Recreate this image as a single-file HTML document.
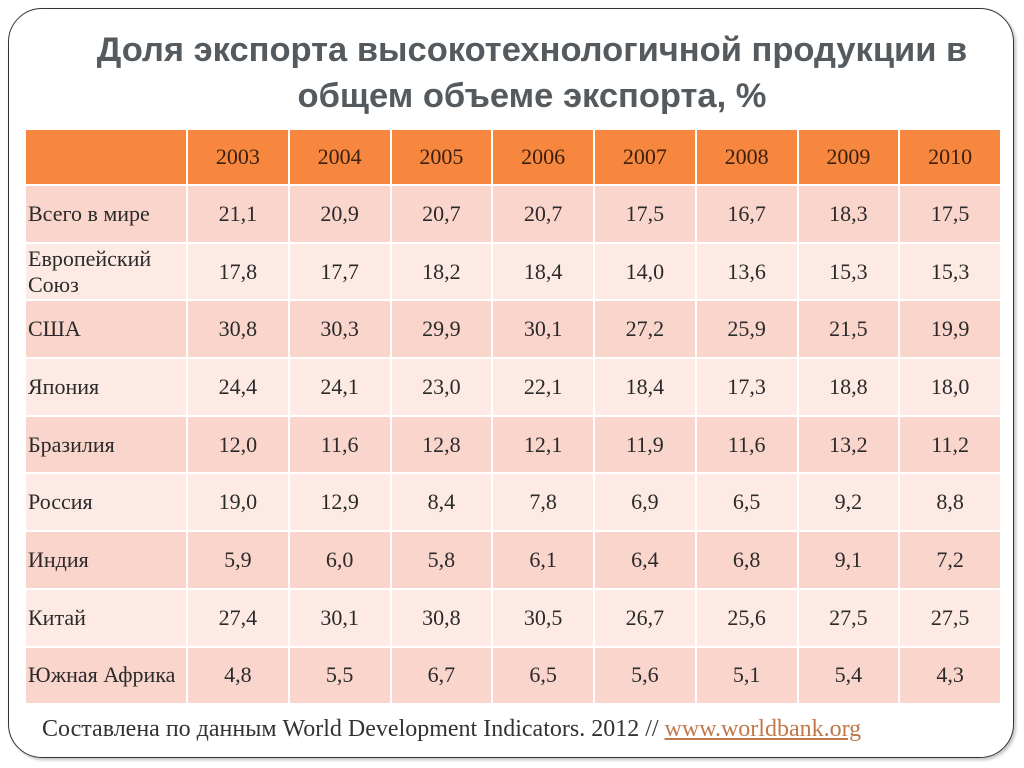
<!DOCTYPE html>
<html><head><meta charset="utf-8">
<style>
html,body{margin:0;padding:0;background:#fff;}
body{width:1024px;height:768px;position:relative;overflow:hidden;font-family:"Liberation Serif","DejaVu Serif",serif;}
.frame{position:absolute;left:8px;top:8px;width:1006px;height:750px;border:1.5px solid #333;border-radius:34px;box-sizing:border-box;box-shadow:2px 2px 3px rgba(0,0,0,0.25);}
.title{position:absolute;left:82px;top:27px;width:900px;text-align:center;font-family:"Liberation Sans","DejaVu Sans",sans-serif;font-weight:bold;font-size:34.5px;line-height:46px;color:#555a5e;}
table{position:absolute;left:24px;top:128px;border-collapse:collapse;table-layout:fixed;}
td,th{padding:0;border:2px solid #fff;font-size:22px;color:#2a2a2a;text-align:center;}
th{background:#f7873e;height:54px;font-weight:normal;color:#3a2010;}
td{height:55.7px;}
td.lab{text-align:left;padding-left:2px;line-height:26px;}
tr.d td{background:#fad5cc;}
tr.l td{background:#fdeae5;}
.foot{position:absolute;left:42px;top:716px;font-size:24px;color:#333;white-space:nowrap;}
.foot a{color:#c0784a;text-decoration:underline;}
</style></head><body>
<div class="frame"></div>
<div class="title">Доля экспорта высокотехнологичной продукции в общем объеме экспорта, %</div>
<table id="tbl"></table>
<div class="foot">Составлена по данным World Development Indicators. 2012 // <a>www.worldbank.org</a></div>
<script>
const years=["2003","2004","2005","2006","2007","2008","2009","2010"];
const countries=["Всего в мире","Европейский Союз","США","Япония","Бразилия","Россия","Индия","Китай","Южная Африка"];
const v0=["21,1","20,9","20,7","20,7","17,5","16,7","18,3","17,5"];
const v1=["17,8","17,7","18,2","18,4","14,0","13,6","15,3","15,3"];
const v2=["30,8","30,3","29,9","30,1","27,2","25,9","21,5","19,9"];
const v3=["24,4","24,1","23,0","22,1","18,4","17,3","18,8","18,0"];
const v4=["12,0","11,6","12,8","12,1","11,9","11,6","13,2","11,2"];
const v5=["19,0","12,9","8,4","7,8","6,9","6,5","9,2","8,8"];
const v6=["5,9","6,0","5,8","6,1","6,4","6,8","9,1","7,2"];
const v7=["27,4","30,1","30,8","30,5","26,7","25,6","27,5","27,5"];
const v8=["4,8","5,5","6,7","6,5","5,6","5,1","5,4","4,3"];
const vals=[v0,v1,v2,v3,v4,v5,v6,v7,v8];
const t=document.getElementById('tbl');
const cg=document.createElement('colgroup');
let c=document.createElement('col');c.style.width='162px';cg.appendChild(c);
years.forEach(()=>{const cc=document.createElement('col');cc.style.width='101.75px';cg.appendChild(cc);});
t.appendChild(cg);
const hr=document.createElement('tr');


const h0=document.createElement('th');


hr.appendChild(h0);
years.forEach(y=>{const th=document.createElement('th');th.textContent=y;


hr.appendChild(th);});
t.appendChild(hr);
countries.forEach((n,i)=>{
 const tr=document.createElement('tr');tr.className=i%2?'l':'d';
 
 
 const l=document.createElement('td');l.className='lab';
 if(n==="Европейский Союз"){l.innerHTML="Европейский<br>Союз";}else{l.textContent=n;}
 
 
 tr.appendChild(l);
 vals[i].forEach(v=>{const td=document.createElement('td');td.textContent=v;
 
 
 tr.appendChild(td);});
 t.appendChild(tr);
});
</script>
</body></html>
